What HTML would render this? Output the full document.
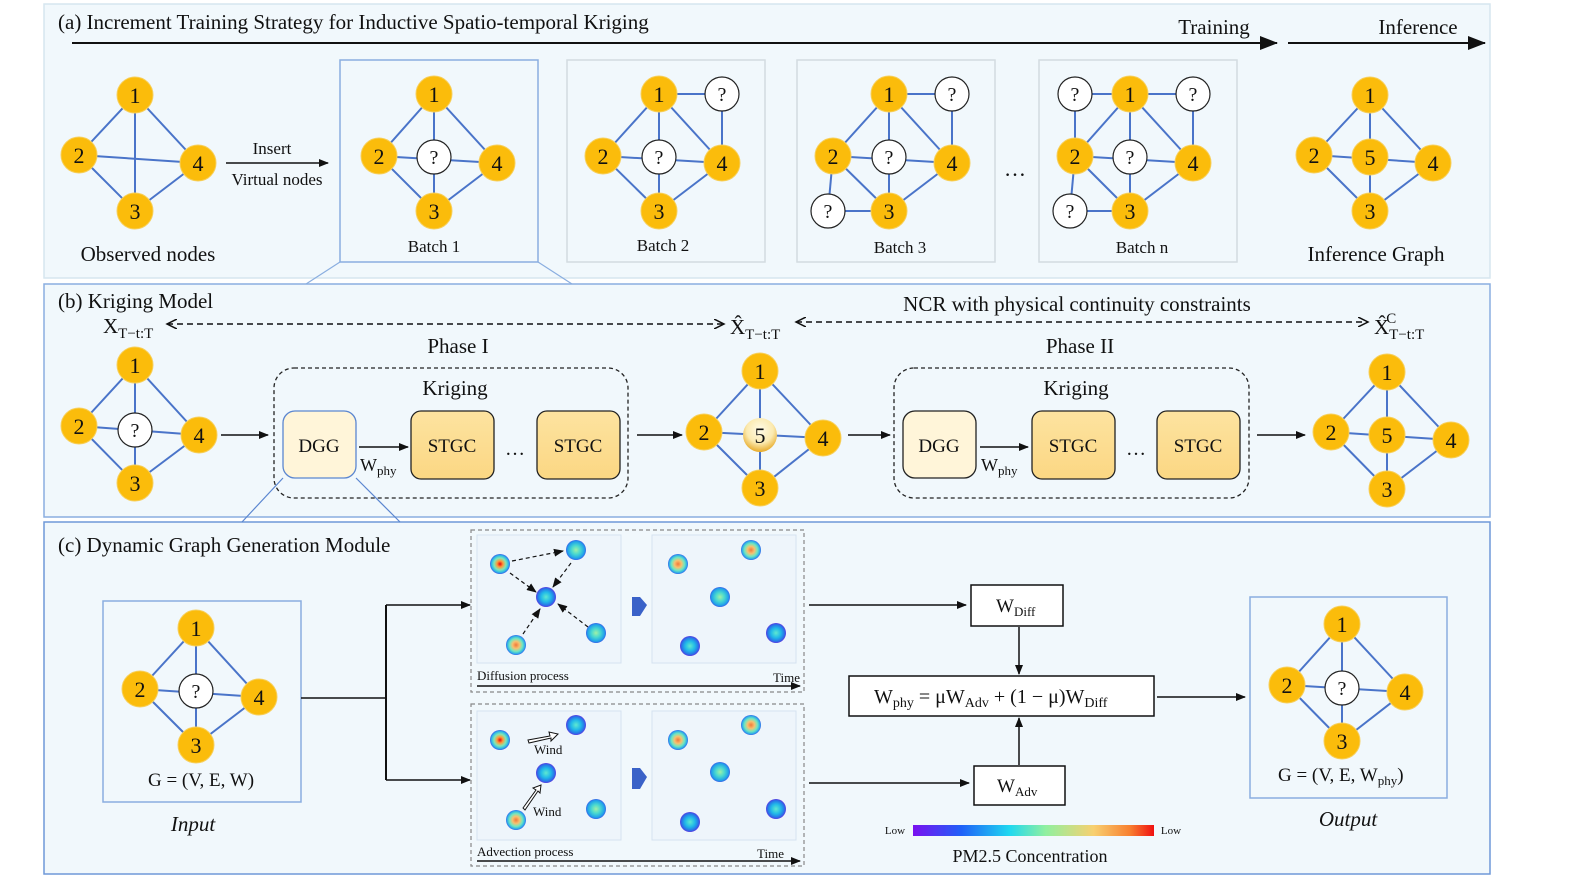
<!DOCTYPE html>
<html><head><meta charset="utf-8"><style>
html,body{margin:0;padding:0;background:#fff;overflow:hidden;width:1578px;height:888px;}
svg{display:block;}
text{font-family:"Liberation Serif",serif;fill:#111;}
.n{fill:#fbbc0b;stroke:#f7cf5a;stroke-width:1;}
.q{fill:#fff;stroke:#222;stroke-width:1.2;}
.e{stroke:#4a74c9;stroke-width:2;}
.nt{font-size:22px;text-anchor:middle;}
.qt{font-size:20px;text-anchor:middle;}
.ln{stroke:#111;stroke-width:1.5;fill:none;}
</style></head><body>
<svg width="1578" height="888" viewBox="0 0 1578 888" xmlns="http://www.w3.org/2000/svg">
<defs>
<marker id="ah" markerWidth="10" markerHeight="8" refX="9" refY="4" orient="auto" markerUnits="userSpaceOnUse"><path d="M0,0 L10,4 L0,8 z" fill="#111"/></marker>
<marker id="ahb" markerWidth="18" markerHeight="14" refX="17" refY="7" orient="auto" markerUnits="userSpaceOnUse"><path d="M0,0 L18,7 L0,14 z" fill="#111"/></marker>
<marker id="ao" markerWidth="12" markerHeight="10" refX="10" refY="5" orient="auto" markerUnits="userSpaceOnUse"><path d="M0,0 L10,5 L0,10" fill="none" stroke="#111" stroke-width="1.5"/></marker>
<marker id="aos" markerWidth="12" markerHeight="10" refX="2" refY="5" orient="auto" markerUnits="userSpaceOnUse"><path d="M12,0 L2,5 L12,10" fill="none" stroke="#111" stroke-width="1.5"/></marker>
<linearGradient id="stg" x1="0" y1="0" x2="0" y2="1"><stop offset="0" stop-color="#fde3a0"/><stop offset="1" stop-color="#fbd783"/></linearGradient>
<radialGradient id="n5" cx="0.5" cy="0.35" r="0.65"><stop offset="0" stop-color="#fffbe8"/><stop offset="0.6" stop-color="#fbeab0"/><stop offset="1" stop-color="#e7ab2a"/></radialGradient>
<radialGradient id="dR"><stop offset="0" stop-color="#e8000a"/><stop offset="0.3" stop-color="#ff9a3a"/><stop offset="0.6" stop-color="#7ee8b8"/><stop offset="0.85" stop-color="#2ab8e8"/><stop offset="1" stop-color="#3a5ee6"/></radialGradient>
<radialGradient id="dO"><stop offset="0" stop-color="#f07a3a"/><stop offset="0.35" stop-color="#f8c070"/><stop offset="0.65" stop-color="#70e8c0"/><stop offset="0.9" stop-color="#2aa8ea"/><stop offset="1" stop-color="#3a62e6"/></radialGradient>
<radialGradient id="dC"><stop offset="0" stop-color="#a0f0a8"/><stop offset="0.45" stop-color="#48d8d0"/><stop offset="0.85" stop-color="#20a0ea"/><stop offset="1" stop-color="#3a62e6"/></radialGradient>
<radialGradient id="dB"><stop offset="0" stop-color="#60e8d0"/><stop offset="0.5" stop-color="#20b8e8"/><stop offset="0.85" stop-color="#2a70e8"/><stop offset="1" stop-color="#5a3ae0"/></radialGradient>
<linearGradient id="cbar" x1="0" x2="1"><stop offset="0" stop-color="#7a10f0"/><stop offset="0.2" stop-color="#2060f8"/><stop offset="0.4" stop-color="#20d8f0"/><stop offset="0.55" stop-color="#90f0a0"/><stop offset="0.75" stop-color="#f8d070"/><stop offset="0.9" stop-color="#f88030"/><stop offset="1" stop-color="#f01010"/></linearGradient>
</defs>

<!-- Panels -->
<rect x="44" y="4" width="1446" height="274" fill="#f1f8fc" stroke="#d6e6ef" stroke-width="1.5"/>
<rect x="44" y="284" width="1446" height="233" fill="#f1f8fc" stroke="#8aaee0" stroke-width="1.5"/>
<rect x="44" y="522" width="1446" height="352" fill="#f1f8fc" stroke="#6f98d8" stroke-width="1.5"/>

<!-- (a) -->
<text x="58" y="29" font-size="21">(a) Increment Training Strategy for Inductive Spatio-temporal Kriging</text>
<line x1="72" y1="43" x2="1277" y2="43" stroke="#111" stroke-width="2" marker-end="url(#ahb)"/>
<text x="1214" y="34" font-size="21" text-anchor="middle">Training</text>
<line x1="1288" y1="43" x2="1485" y2="43" stroke="#111" stroke-width="2" marker-end="url(#ahb)"/>
<text x="1418" y="34" font-size="21" text-anchor="middle">Inference</text>

<!-- observed -->
<g class="e"><line x1="135" y1="95" x2="79" y2="155"/><line x1="135" y1="95" x2="135" y2="211"/><line x1="135" y1="95" x2="198" y2="163"/><line x1="79" y1="155" x2="198" y2="163"/><line x1="79" y1="155" x2="135" y2="211"/><line x1="135" y1="211" x2="198" y2="163"/></g>
<circle class="n" cx="135" cy="95" r="18"/><text class="nt" x="135" y="103">1</text>
<circle class="n" cx="79" cy="155" r="18"/><text class="nt" x="79" y="163">2</text>
<circle class="n" cx="135" cy="211" r="18"/><text class="nt" x="135" y="219">3</text>
<circle class="n" cx="198" cy="163" r="18"/><text class="nt" x="198" y="171">4</text>
<text x="148" y="261" font-size="21" text-anchor="middle">Observed nodes</text>
<line x1="226" y1="163" x2="328" y2="163" class="ln" marker-end="url(#ah)"/>
<text x="272" y="154" font-size="17" text-anchor="middle">Insert</text>
<text x="277" y="185" font-size="17" text-anchor="middle">Virtual nodes</text>

<!-- batch1 -->
<line x1="340" y1="262" x2="306" y2="284" stroke="#8aaee0" stroke-width="1.2"/>
<line x1="538" y1="262" x2="572" y2="284" stroke="#8aaee0" stroke-width="1.2"/>
<rect x="340" y="60" width="198" height="202" fill="none" stroke="#8aaee0" stroke-width="1.5"/>
<g class="e"><line x1="434" y1="94" x2="379" y2="156"/><line x1="434" y1="94" x2="497" y2="163"/><line x1="379" y1="156" x2="434" y2="211"/><line x1="434" y1="211" x2="497" y2="163"/><line x1="434" y1="94" x2="434" y2="211"/><line x1="379" y1="156" x2="497" y2="163"/></g>
<circle class="q" cx="434" cy="157" r="17"/><text class="qt" x="434" y="164">?</text>
<circle class="n" cx="434" cy="94" r="18"/><text class="nt" x="434" y="102">1</text>
<circle class="n" cx="379" cy="156" r="18"/><text class="nt" x="379" y="164">2</text>
<circle class="n" cx="434" cy="211" r="18"/><text class="nt" x="434" y="219">3</text>
<circle class="n" cx="497" cy="163" r="18"/><text class="nt" x="497" y="171">4</text>
<text x="434" y="252" font-size="17" text-anchor="middle">Batch 1</text>

<!-- batch2 -->
<rect x="567" y="60" width="198" height="202" fill="none" stroke="#d3dbe0" stroke-width="1.5"/>
<g class="e"><line x1="659" y1="94" x2="603" y2="156"/><line x1="659" y1="94" x2="722" y2="163"/><line x1="603" y1="156" x2="659" y2="211"/><line x1="659" y1="211" x2="722" y2="163"/><line x1="659" y1="94" x2="659" y2="211"/><line x1="603" y1="156" x2="722" y2="163"/><line x1="659" y1="94" x2="722" y2="94"/><line x1="722" y1="94" x2="722" y2="163"/></g>
<circle class="q" cx="659" cy="157" r="17"/><text class="qt" x="659" y="164">?</text>
<circle class="q" cx="722" cy="94" r="17"/><text class="qt" x="722" y="101">?</text>
<circle class="n" cx="659" cy="94" r="18"/><text class="nt" x="659" y="102">1</text>
<circle class="n" cx="603" cy="156" r="18"/><text class="nt" x="603" y="164">2</text>
<circle class="n" cx="659" cy="211" r="18"/><text class="nt" x="659" y="219">3</text>
<circle class="n" cx="722" cy="163" r="18"/><text class="nt" x="722" y="171">4</text>
<text x="663" y="251" font-size="17" text-anchor="middle">Batch 2</text>

<!-- batch3 -->
<rect x="797" y="60" width="198" height="202" fill="none" stroke="#d3dbe0" stroke-width="1.5"/>
<g class="e"><line x1="889" y1="94" x2="833" y2="156"/><line x1="889" y1="94" x2="952" y2="163"/><line x1="833" y1="156" x2="889" y2="211"/><line x1="889" y1="211" x2="952" y2="163"/><line x1="889" y1="94" x2="889" y2="211"/><line x1="833" y1="156" x2="952" y2="163"/><line x1="889" y1="94" x2="952" y2="94"/><line x1="952" y1="94" x2="952" y2="163"/><line x1="828" y1="211" x2="833" y2="156"/><line x1="828" y1="211" x2="889" y2="211"/></g>
<circle class="q" cx="889" cy="157" r="17"/><text class="qt" x="889" y="164">?</text>
<circle class="q" cx="952" cy="94" r="17"/><text class="qt" x="952" y="101">?</text>
<circle class="q" cx="828" cy="211" r="17"/><text class="qt" x="828" y="218">?</text>
<circle class="n" cx="889" cy="94" r="18"/><text class="nt" x="889" y="102">1</text>
<circle class="n" cx="833" cy="156" r="18"/><text class="nt" x="833" y="164">2</text>
<circle class="n" cx="889" cy="211" r="18"/><text class="nt" x="889" y="219">3</text>
<circle class="n" cx="952" cy="163" r="18"/><text class="nt" x="952" y="171">4</text>
<text x="900" y="253" font-size="17" text-anchor="middle">Batch 3</text>
<text x="1015" y="176" font-size="22" text-anchor="middle">…</text>

<!-- batch n -->
<rect x="1039" y="60" width="198" height="202" fill="none" stroke="#d3dbe0" stroke-width="1.5"/>
<g class="e"><line x1="1130" y1="94" x2="1075" y2="156"/><line x1="1130" y1="94" x2="1193" y2="163"/><line x1="1075" y1="156" x2="1130" y2="211"/><line x1="1130" y1="211" x2="1193" y2="163"/><line x1="1130" y1="94" x2="1130" y2="211"/><line x1="1075" y1="156" x2="1193" y2="163"/><line x1="1130" y1="94" x2="1193" y2="94"/><line x1="1193" y1="94" x2="1193" y2="163"/><line x1="1070" y1="211" x2="1075" y2="156"/><line x1="1070" y1="211" x2="1130" y2="211"/><line x1="1075" y1="94" x2="1130" y2="94"/><line x1="1075" y1="94" x2="1075" y2="156"/></g>
<circle class="q" cx="1130" cy="157" r="17"/><text class="qt" x="1130" y="164">?</text>
<circle class="q" cx="1193" cy="94" r="17"/><text class="qt" x="1193" y="101">?</text>
<circle class="q" cx="1070" cy="211" r="17"/><text class="qt" x="1070" y="218">?</text>
<circle class="q" cx="1075" cy="94" r="17"/><text class="qt" x="1075" y="101">?</text>
<circle class="n" cx="1130" cy="94" r="18"/><text class="nt" x="1130" y="102">1</text>
<circle class="n" cx="1075" cy="156" r="18"/><text class="nt" x="1075" y="164">2</text>
<circle class="n" cx="1130" cy="211" r="18"/><text class="nt" x="1130" y="219">3</text>
<circle class="n" cx="1193" cy="163" r="18"/><text class="nt" x="1193" y="171">4</text>
<text x="1142" y="253" font-size="17" text-anchor="middle">Batch n</text>

<!-- inference -->
<g class="e"><line x1="1370" y1="95" x2="1314" y2="155"/><line x1="1370" y1="95" x2="1433" y2="163"/><line x1="1314" y1="155" x2="1370" y2="211"/><line x1="1370" y1="211" x2="1433" y2="163"/><line x1="1370" y1="95" x2="1370" y2="211"/><line x1="1314" y1="155" x2="1433" y2="163"/></g>
<circle class="n" cx="1370" cy="95" r="18"/><text class="nt" x="1370" y="103">1</text>
<circle class="n" cx="1314" cy="155" r="18"/><text class="nt" x="1314" y="163">2</text>
<circle class="n" cx="1370" cy="157" r="18"/><text class="nt" x="1370" y="165">5</text>
<circle class="n" cx="1370" cy="211" r="18"/><text class="nt" x="1370" y="219">3</text>
<circle class="n" cx="1433" cy="163" r="18"/><text class="nt" x="1433" y="171">4</text>
<text x="1376" y="261" font-size="21" text-anchor="middle">Inference Graph</text>

<!-- (b) -->
<text x="58" y="308" font-size="21">(b) Kriging Model</text>
<text x="103" y="333" font-size="21">X<tspan font-size="15" dy="5">T−t:T</tspan></text>
<line x1="167" y1="324" x2="724" y2="324" stroke="#111" stroke-width="1.5" stroke-dasharray="6,4" marker-start="url(#aos)" marker-end="url(#ao)"/>
<text x="730" y="334" font-size="21">X̂<tspan font-size="15" dy="5">T−t:T</tspan></text>
<line x1="796" y1="322" x2="1368" y2="322" stroke="#111" stroke-width="1.5" stroke-dasharray="6,4" marker-start="url(#aos)" marker-end="url(#ao)"/>
<text x="1077" y="311" font-size="21" text-anchor="middle">NCR with physical continuity constraints</text>
<text x="1374" y="334" font-size="21">X̂<tspan font-size="15" dy="5">T−t:T</tspan><tspan font-size="15" dx="-38" dy="-16">C</tspan></text>
<text x="458" y="353" font-size="21" text-anchor="middle">Phase I</text>
<text x="1080" y="353" font-size="21" text-anchor="middle">Phase II</text>

<g class="e"><line x1="135" y1="365" x2="79" y2="426"/><line x1="135" y1="365" x2="199" y2="435"/><line x1="79" y1="426" x2="135" y2="483"/><line x1="135" y1="483" x2="199" y2="435"/><line x1="135" y1="365" x2="135" y2="483"/><line x1="79" y1="426" x2="199" y2="435"/></g>
<circle class="q" cx="135" cy="430" r="17"/><text class="qt" x="135" y="437">?</text>
<circle class="n" cx="135" cy="365" r="18"/><text class="nt" x="135" y="373">1</text>
<circle class="n" cx="79" cy="426" r="18"/><text class="nt" x="79" y="434">2</text>
<circle class="n" cx="135" cy="483" r="18"/><text class="nt" x="135" y="491">3</text>
<circle class="n" cx="199" cy="435" r="18"/><text class="nt" x="199" y="443">4</text>
<line x1="221" y1="435" x2="268" y2="435" class="ln" marker-end="url(#ah)"/>

<rect x="274" y="368" width="354" height="130" rx="20" fill="none" stroke="#222" stroke-width="1.3" stroke-dasharray="4,3"/>
<text x="455" y="395" font-size="21" text-anchor="middle">Kriging</text>
<line x1="283" y1="478" x2="242" y2="522" stroke="#5b86d0" stroke-width="1.2"/>
<line x1="356" y1="478" x2="400" y2="522" stroke="#5b86d0" stroke-width="1.2"/>
<rect x="283" y="411" width="73" height="67" rx="12" fill="#fff5d9" stroke="#5b86d0" stroke-width="1.3"/>
<text x="319" y="452" font-size="19" text-anchor="middle">DGG</text>
<line x1="359" y1="447" x2="408" y2="447" class="ln" marker-end="url(#ah)"/>
<text x="360" y="471" font-size="18">W<tspan font-size="13" dy="4">phy</tspan></text>
<rect x="411" y="411" width="83" height="68" rx="10" fill="url(#stg)" stroke="#222" stroke-width="1.3"/>
<text x="452" y="452" font-size="19" text-anchor="middle">STGC</text>
<text x="515" y="455" font-size="20" text-anchor="middle">…</text>
<rect x="537" y="411" width="83" height="68" rx="10" fill="url(#stg)" stroke="#222" stroke-width="1.3"/>
<text x="578" y="452" font-size="19" text-anchor="middle">STGC</text>
<line x1="637" y1="435" x2="682" y2="435" class="ln" marker-end="url(#ah)"/>

<g class="e"><line x1="760" y1="371" x2="704" y2="432"/><line x1="760" y1="371" x2="823" y2="438"/><line x1="704" y1="432" x2="760" y2="488"/><line x1="760" y1="488" x2="823" y2="438"/><line x1="760" y1="371" x2="760" y2="488"/><line x1="704" y1="432" x2="823" y2="438"/></g>
<circle cx="760" cy="435" r="17" fill="url(#n5)"/><text class="nt" x="760" y="443">5</text>
<circle class="n" cx="760" cy="371" r="18"/><text class="nt" x="760" y="379">1</text>
<circle class="n" cx="704" cy="432" r="18"/><text class="nt" x="704" y="440">2</text>
<circle class="n" cx="760" cy="488" r="18"/><text class="nt" x="760" y="496">3</text>
<circle class="n" cx="823" cy="438" r="18"/><text class="nt" x="823" y="446">4</text>
<line x1="848" y1="435" x2="890" y2="435" class="ln" marker-end="url(#ah)"/>

<rect x="894" y="368" width="355" height="130" rx="20" fill="none" stroke="#222" stroke-width="1.3" stroke-dasharray="4,3"/>
<text x="1076" y="395" font-size="21" text-anchor="middle">Kriging</text>
<rect x="903" y="411" width="73" height="67" rx="12" fill="#fff5d9" stroke="#222" stroke-width="1.3"/>
<text x="939" y="452" font-size="19" text-anchor="middle">DGG</text>
<line x1="980" y1="447" x2="1028" y2="447" class="ln" marker-end="url(#ah)"/>
<text x="981" y="471" font-size="18">W<tspan font-size="13" dy="4">phy</tspan></text>
<rect x="1032" y="411" width="83" height="68" rx="10" fill="url(#stg)" stroke="#222" stroke-width="1.3"/>
<text x="1073" y="452" font-size="19" text-anchor="middle">STGC</text>
<text x="1136" y="455" font-size="20" text-anchor="middle">…</text>
<rect x="1157" y="411" width="83" height="68" rx="10" fill="url(#stg)" stroke="#222" stroke-width="1.3"/>
<text x="1198" y="452" font-size="19" text-anchor="middle">STGC</text>
<line x1="1257" y1="435" x2="1305" y2="435" class="ln" marker-end="url(#ah)"/>

<g class="e"><line x1="1387" y1="372" x2="1331" y2="432"/><line x1="1387" y1="372" x2="1451" y2="440"/><line x1="1331" y1="432" x2="1387" y2="489"/><line x1="1387" y1="489" x2="1451" y2="440"/><line x1="1387" y1="372" x2="1387" y2="489"/><line x1="1331" y1="432" x2="1451" y2="440"/></g>
<circle class="n" cx="1387" cy="372" r="18"/><text class="nt" x="1387" y="380">1</text>
<circle class="n" cx="1331" cy="432" r="18"/><text class="nt" x="1331" y="440">2</text>
<circle class="n" cx="1387" cy="435" r="18"/><text class="nt" x="1387" y="443">5</text>
<circle class="n" cx="1387" cy="489" r="18"/><text class="nt" x="1387" y="497">3</text>
<circle class="n" cx="1451" cy="440" r="18"/><text class="nt" x="1451" y="448">4</text>

<!-- (c) -->
<text x="58" y="552" font-size="21">(c) Dynamic Graph Generation Module</text>
<rect x="103" y="601" width="198" height="201" fill="none" stroke="#8aaee0" stroke-width="1.5"/>
<g class="e"><line x1="196" y1="628" x2="140" y2="689"/><line x1="196" y1="628" x2="259" y2="697"/><line x1="140" y1="689" x2="196" y2="745"/><line x1="196" y1="745" x2="259" y2="697"/><line x1="196" y1="628" x2="196" y2="745"/><line x1="140" y1="689" x2="259" y2="697"/></g>
<circle class="q" cx="196" cy="691" r="17"/><text class="qt" x="196" y="698">?</text>
<circle class="n" cx="196" cy="628" r="18"/><text class="nt" x="196" y="636">1</text>
<circle class="n" cx="140" cy="689" r="18"/><text class="nt" x="140" y="697">2</text>
<circle class="n" cx="196" cy="745" r="18"/><text class="nt" x="196" y="753">3</text>
<circle class="n" cx="259" cy="697" r="18"/><text class="nt" x="259" y="705">4</text>
<text x="201" y="786" font-size="19" text-anchor="middle" font-family="Liberation Mono, monospace">G = (V, E, W)</text>
<text x="193" y="831" font-size="21" font-style="italic" text-anchor="middle">Input</text>

<polyline points="301,698 386,698" class="ln" stroke-width="2"/>
<line x1="386" y1="605" x2="386" y2="780" stroke="#111" stroke-width="2"/>
<line x1="386" y1="605" x2="470" y2="605" class="ln" stroke-width="2" marker-end="url(#ah)"/>
<line x1="386" y1="780" x2="470" y2="780" class="ln" stroke-width="2" marker-end="url(#ah)"/>

<rect x="471" y="530" width="333" height="162" fill="none" stroke="#888" stroke-width="1.2" stroke-dasharray="4,3"/>
<rect x="477" y="535" width="144" height="128" fill="#eef5fb" stroke="#d5e2f0"/>
<rect x="652" y="535" width="144" height="128" fill="#eef5fb" stroke="#d5e2f0"/>
<text x="477" y="680" font-size="13">Diffusion process</text>
<text x="773" y="682" font-size="13">Time</text>
<line x1="477" y1="686" x2="800" y2="686" class="ln" stroke-width="1.2" marker-end="url(#ah)"/>
<g stroke="#111" stroke-width="1.2" stroke-dasharray="4,3" fill="none">
<line x1="512" y1="561" x2="563" y2="551" marker-end="url(#ah)"/>
<line x1="510" y1="573" x2="536" y2="592" marker-end="url(#ah)"/>
<line x1="571" y1="563" x2="553" y2="587" marker-end="url(#ah)"/>
<line x1="523" y1="634" x2="540" y2="609" marker-end="url(#ah)"/>
<line x1="588" y1="627" x2="558" y2="604" marker-end="url(#ah)"/>
</g>
<circle cx="500" cy="564" r="10" fill="url(#dR)"/><circle cx="576" cy="550" r="10" fill="url(#dC)"/><circle cx="546" cy="597" r="10" fill="url(#dB)"/><circle cx="516" cy="645" r="10" fill="url(#dO)"/><circle cx="596" cy="633" r="10" fill="url(#dC)"/>
<circle cx="678" cy="564" r="10" fill="url(#dO)"/><circle cx="751" cy="550" r="10" fill="url(#dO)"/><circle cx="720" cy="597" r="10" fill="url(#dC)"/><circle cx="690" cy="646" r="10" fill="url(#dB)"/><circle cx="776" cy="633" r="10" fill="url(#dB)"/>
<path d="M632,597 L640,597 L647,605 L640,616 L632,616 z" fill="#3a62c8"/>

<rect x="471" y="704" width="333" height="162" fill="none" stroke="#888" stroke-width="1.2" stroke-dasharray="4,3"/>
<rect x="477" y="711" width="144" height="129" fill="#eef5fb" stroke="#d5e2f0"/>
<rect x="652" y="711" width="144" height="129" fill="#eef5fb" stroke="#d5e2f0"/>
<text x="477" y="856" font-size="13">Advection process</text>
<text x="757" y="858" font-size="13">Time</text>
<line x1="477" y1="861" x2="800" y2="861" class="ln" stroke-width="1.2" marker-end="url(#ah)"/>
<path d="M528,740 L550,736 L549,732 L558,734 L551,741 L551,738 L529,743 z" fill="#fff" stroke="#111" stroke-width="1"/>
<path d="M523,808 L536,790 L533,788 L541,785 L540,793 L538,791 L525,810 z" fill="#fff" stroke="#111" stroke-width="1"/>
<text x="534" y="754" font-size="13">Wind</text>
<text x="533" y="816" font-size="13">Wind</text>
<circle cx="500" cy="740" r="10" fill="url(#dR)"/><circle cx="576" cy="725" r="10" fill="url(#dB)"/><circle cx="546" cy="773" r="10" fill="url(#dB)"/><circle cx="516" cy="820" r="10" fill="url(#dO)"/><circle cx="596" cy="809" r="10" fill="url(#dC)"/>
<circle cx="678" cy="740" r="10" fill="url(#dO)"/><circle cx="751" cy="725" r="10" fill="url(#dO)"/><circle cx="720" cy="772" r="10" fill="url(#dC)"/><circle cx="690" cy="822" r="10" fill="url(#dB)"/><circle cx="776" cy="809" r="10" fill="url(#dB)"/>
<path d="M632,768 L640,768 L647,777 L640,789 L632,789 z" fill="#3a62c8"/>

<line x1="809" y1="605" x2="966" y2="605" class="ln" marker-end="url(#ah)"/>
<line x1="809" y1="783" x2="969" y2="783" class="ln" marker-end="url(#ah)"/>
<rect x="971" y="585" width="92" height="41" fill="#fff" stroke="#111" stroke-width="1.5"/>
<text x="996" y="612" font-size="19">W<tspan font-size="13" dy="4">Diff</tspan></text>
<rect x="974" y="766" width="91" height="39" fill="#fff" stroke="#111" stroke-width="1.5"/>
<text x="997" y="792" font-size="19">W<tspan font-size="13" dy="4">Adv</tspan></text>
<line x1="1019" y1="627" x2="1019" y2="674" class="ln" marker-end="url(#ah)"/>
<line x1="1019" y1="765" x2="1019" y2="718" class="ln" marker-end="url(#ah)"/>
<rect x="849" y="676" width="305" height="40" fill="#fff" stroke="#111" stroke-width="1.5"/>
<text x="874" y="703" font-size="20">W<tspan font-size="14" dy="4">phy</tspan><tspan dy="-4"> = μW</tspan><tspan font-size="14" dy="4">Adv</tspan><tspan dy="-4"> + (1 − μ)W</tspan><tspan font-size="14" dy="4">Diff</tspan></text>
<line x1="1157" y1="697" x2="1245" y2="697" class="ln" marker-end="url(#ah)"/>

<rect x="1250" y="597" width="197" height="201" fill="none" stroke="#8aaee0" stroke-width="1.5"/>
<g class="e"><line x1="1342" y1="624" x2="1287" y2="685"/><line x1="1342" y1="624" x2="1405" y2="692"/><line x1="1287" y1="685" x2="1342" y2="741"/><line x1="1342" y1="741" x2="1405" y2="692"/><line x1="1342" y1="624" x2="1342" y2="741"/><line x1="1287" y1="685" x2="1405" y2="692"/></g>
<circle class="q" cx="1342" cy="688" r="17"/><text class="qt" x="1342" y="695">?</text>
<circle class="n" cx="1342" cy="624" r="18"/><text class="nt" x="1342" y="632">1</text>
<circle class="n" cx="1287" cy="685" r="18"/><text class="nt" x="1287" y="693">2</text>
<circle class="n" cx="1342" cy="741" r="18"/><text class="nt" x="1342" y="749">3</text>
<circle class="n" cx="1405" cy="692" r="18"/><text class="nt" x="1405" y="700">4</text>
<text x="1278" y="781" font-size="19" font-family="Liberation Mono, monospace">G = (V, E, W<tspan font-size="13" dy="4">phy</tspan><tspan dy="-4">)</tspan></text>
<text x="1348" y="826" font-size="21" font-style="italic" text-anchor="middle">Output</text>

<rect x="913" y="825" width="241" height="11" fill="url(#cbar)"/>
<text x="895" y="834" font-size="11" text-anchor="middle">Low</text>
<text x="1171" y="834" font-size="11" text-anchor="middle">Low</text>
<text x="1030" y="862" font-size="18" text-anchor="middle">PM2.5 Concentration</text>
</svg>
</body></html>
